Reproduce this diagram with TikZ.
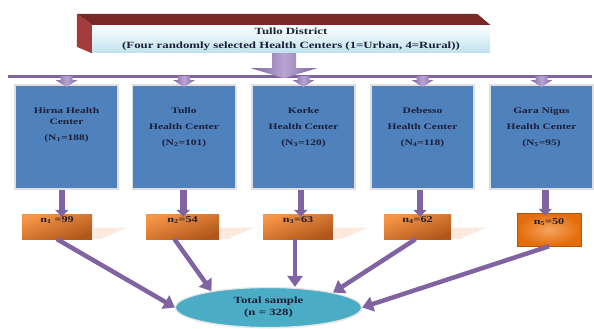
\documentclass[tikz,border=0pt]{standalone}
\usepackage{fontspec}
\setmainfont[FakeStretch=1.35]{Liberation Serif}
\usetikzlibrary{arrows.meta,calc,shadows,shapes.geometric}
\definecolor{pur}{HTML}{8064A2}
\definecolor{purL}{HTML}{B8A5D2}
\definecolor{hcblue}{HTML}{4F81BD}
\definecolor{orT}{HTML}{F79646}
\definecolor{orB}{HTML}{B0561A}
\definecolor{orFive}{HTML}{E46C0A}
\definecolor{orFiveL}{HTML}{F5A35E}
\definecolor{ellc}{HTML}{4BACC6}
\definecolor{maroonT}{HTML}{7A2929}
\definecolor{maroonS}{HTML}{A33D3D}
\definecolor{frontB}{HTML}{BEE2EE}
\definecolor{txt}{HTML}{1E1E38}
\definecolor{peach}{HTML}{FDEADC}
\begin{document}
\begin{tikzpicture}[x=1pt,y=-1pt,
  every node/.style={text=txt},
  topfront/.style={rectangle, minimum width=398pt, minimum height=28pt,
    top color=white, bottom color=frontB, inner sep=0pt, align=center,
    font=\fontsize{9.5}{14}\selectfont\bfseries},
  hcbox/.style={rectangle, fill=hcblue, draw=gray!25, line width=1.6pt,
    minimum width=103pt, minimum height=104pt,
    drop shadow={opacity=0.2, shadow xshift=1pt, shadow yshift=-1pt}},
  hctext/.style={anchor=north, align=center, inner sep=0pt,
    font=\fontsize{8.5}{11}\selectfont\bfseries},
  nbox/.style={rectangle, top color=orT, bottom color=orB, shading angle=20,
    inner xsep=0pt, inner ysep=2pt, text height=6pt, text depth=15pt,
    minimum height=25pt, font=\fontsize{9}{11}\selectfont\bfseries},
  nboxfive/.style={rectangle, inner color=orFiveL, outer color=orFive,
    draw=orFive!80!black, line width=0.5pt,
    inner xsep=0pt, inner ysep=2pt, text height=9pt, text depth=20pt,
    minimum height=33pt, font=\fontsize{9}{11}\selectfont\bfseries},
  totell/.style={ellipse, fill=ellc, draw=white!80!gray, line width=1.2pt,
    minimum width=186pt, minimum height=40pt, inner sep=0pt, align=center,
    font=\fontsize{9.5}{12}\selectfont\bfseries,
    drop shadow={opacity=0.15, shadow xshift=1pt, shadow yshift=-1pt}},
  conn/.style={draw=pur, line width=4.5pt, -{Triangle[width=15pt,length=11pt]}},
  darrow/.style={draw=pur, line width=6.5pt, -{Triangle[width=13pt,length=7pt]}, shorten >=-3pt},
  blockarr/.style={left color=pur, right color=pur, middle color=purL},
  smallarr/.pic={\path[blockarr] (-6,0) -- (6,0) -- (6,4) -- (11,4) -- (0,11) -- (-11,4) -- (-6,4) -- cycle;}
]
\useasboundingbox (0,0) rectangle (594,329);

% top 3D box
\node[topfront] (top) at (291,39) {Tullo District\\(Four randomly selected Health Centers (1=Urban, 4=Rural))};
\fill[maroonT] (top.north west) -- ++(-15,-11) -- ([shift={(-13,-11)}]top.north east) -- (top.north east) -- cycle;
\fill[maroonS] (top.north west) -- ++(-15,-11) -- ++(0,33) -- (top.south west) -- cycle;

% big arrow and distribution bar
\coordinate (ba) at ([shift={(-7,0)}]top.south);
\coordinate (barL) at (8,76);
\coordinate (barR) at (592,76);
\draw[pur, line width=3pt] (barL) -- (barR);
\begin{scope}[shift={(ba)}]
  \path[blockarr] (-12,0) -- (12,0) -- (12,15) -- (33,15) -- (0,25) -- (-33,15) -- (-12,15) -- cycle;
\end{scope}

% health centre boxes
\node[hcbox] (b1) at (66.5,137) {};
\node[hcbox] (b2) at (184,137) {};
\node[hcbox] (b3) at (303.5,137) {};
\node[hcbox] (b4) at (422.5,137) {};
\node[hcbox] (b5) at (541.5,137) {};

\foreach \b in {b1,b2,b3,b4,b5}{
  \pic at (\b.north |- barL) {smallarr};
}

\node[hctext] (t1) at ([shift={(0,23)}]b1.north) {Hirna Health\\Center\\[5pt](N\textsubscript{1}=188)};
\node[hctext] (t2) at ([shift={(0,23)}]b2.north) {Tullo\\[5pt]Health Center\\[5pt](N\textsubscript{2}=101)};
\node[hctext] (t3) at ([shift={(0,23)}]b3.north) {Korke\\[5pt]Health Center\\[5pt](N\textsubscript{3}=120)};
\node[hctext] (t4) at ([shift={(0,23)}]b4.north) {Debesso\\[5pt]Health Center\\[5pt](N\textsubscript{4}=118)};
\node[hctext] (t5) at ([shift={(0,23)}]b5.north) {Gara Nigus\\[5pt]Health Center\\[5pt](N\textsubscript{5}=95)};

% sample boxes
\node[nbox, minimum width=70pt] (n1) at (57,226.5) {n\textsubscript{1} =99};
\node[nbox, minimum width=73pt] (n2) at (182.5,226.5) {n\textsubscript{2}=54};
\node[nbox, minimum width=70pt] (n3) at (298,226.5) {n\textsubscript{3}=63};
\node[nbox, minimum width=67pt] (n4) at (417.5,226.5) {n\textsubscript{4}=62};
\node[nboxfive, minimum width=64pt] (n5) at (549,229.5) {n\textsubscript{5}=50};

\foreach \n in {n1,n2,n3,n4}{
  \fill[peach] ([shift={(0.5,1)}]\n.east) -- ([shift={(35,1)}]\n.east) -- ([shift={(8,0)}]\n.south east) -- ([shift={(0.5,0)}]\n.south east) -- cycle;
}

% arrows from centres to samples
\foreach \i in {1,...,5}{
  \coordinate (d\i) at ($(b\i.south)!.5!(n\i.north)$);
  \draw[darrow] (d\i |- b\i.south) -- (d\i |- n\i.north);
}

% total
\node[totell] (tot) at (268.5,307.5) {Total sample\\(n = 328)};

\coordinate (s3) at ([shift={(-3,0)}]n3.south);
\draw[conn] (n1.south) -- (tot.west);
\draw[conn] ([shift={(-8,0)}]n2.south) -- (tot.164);
\draw[conn] (s3) -- (s3 |- tot.north);
\draw[conn] ([shift={(-2,0)}]n4.south) -- (tot.13);
\draw[conn] (n5.south) -- (tot.east);
\end{tikzpicture}
\end{document}
